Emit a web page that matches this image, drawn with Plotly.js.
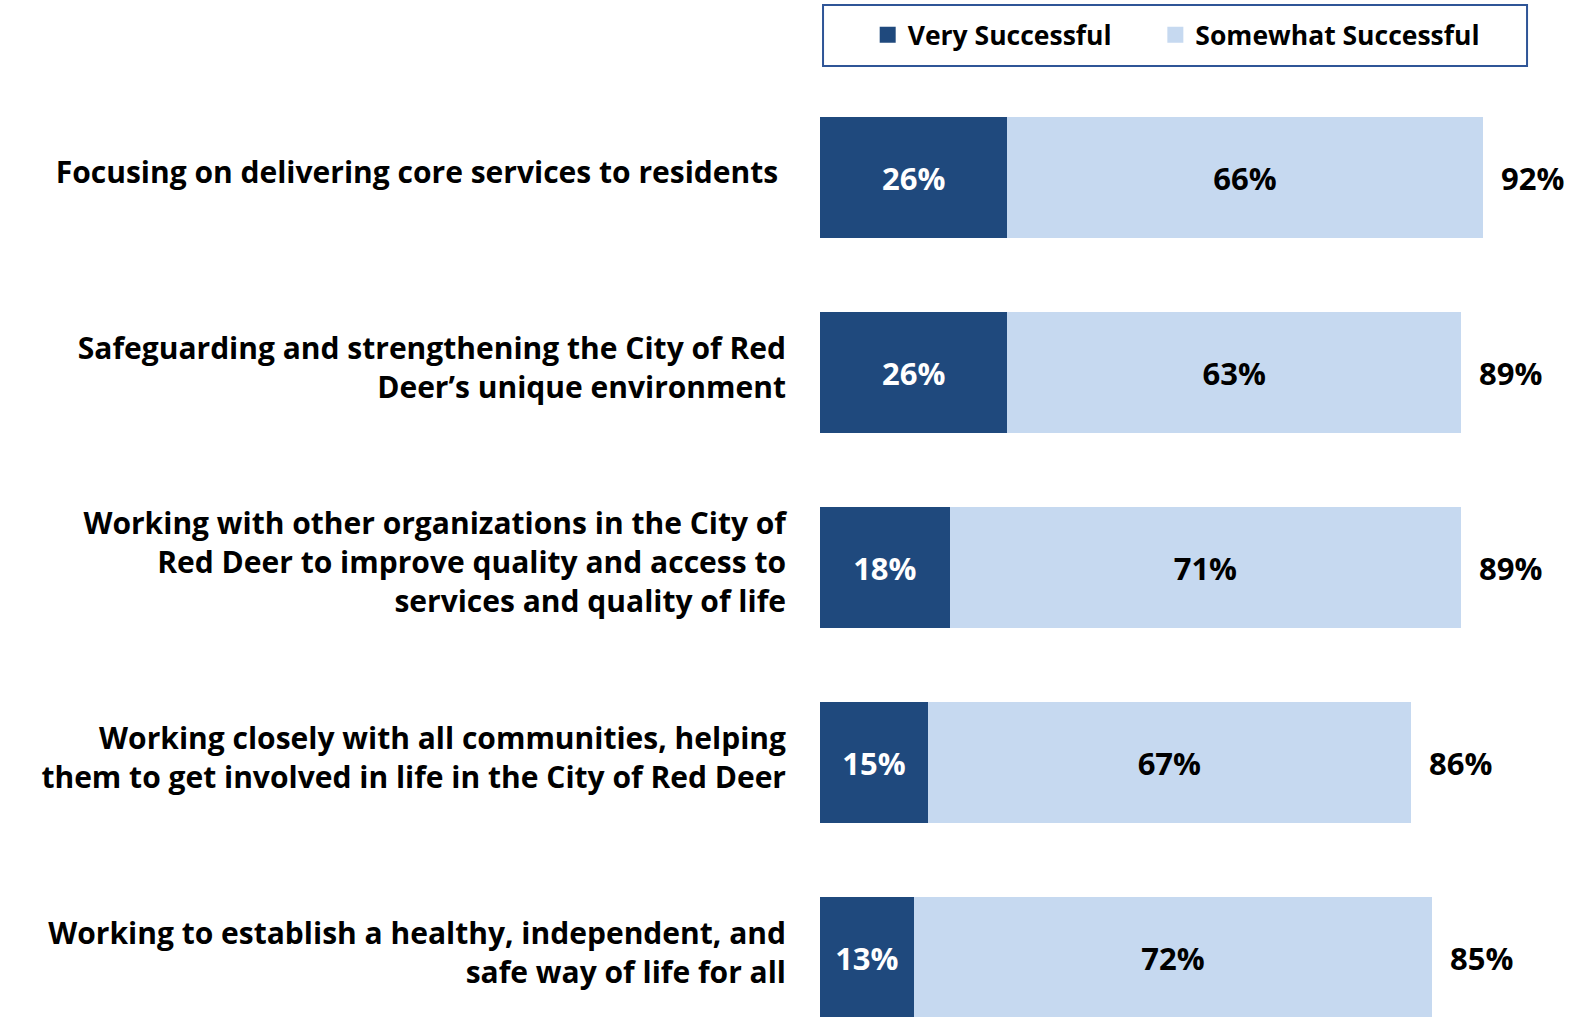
<!DOCTYPE html>
<html>
<head>
<meta charset="utf-8">
<script src="https://cdn.plot.ly/plotly-3.0.1.min.js"></script>
<style>html,body{margin:0;padding:0;background:#fff;}#chart{width:1577px;height:1017px;}</style>
</head>
<body>
<div id="chart"></div>
<script>
const categories = [
  "Focusing on delivering core services to residents\u00a0",
  "Safeguarding and strengthening the City of Red<br>Deer’s unique environment",
  "Working with other organizations in the City of<br>Red Deer to improve quality and access to<br>services and quality of life",
  "Working closely with all communities, helping<br>them to get involved in life in the City of Red Deer",
  "Working to establish a healthy, independent, and<br>safe way of life for all"
];
const verySuccessful = [26, 26, 18, 15, 13];
const somewhatSuccessful = [66, 63, 71, 67, 72];
const totalLabels = ["92%", "89%", "89%", "86%", "85%"];
const seriesNames = ["Very Successful", "Somewhat Successful"];

const FONT = "'Open Sans', Lato, sans-serif";
const darkBlue = "#1F497D";
const lightBlue = "#C6D9F0";
const colors = [darkBlue, lightBlue];
const legendIds = ["legend", "legend2"];

const pct = v => v.map(x => "<b>" + x + "%</b>");

const traces = [
  {
    type: "bar", orientation: "h", name: seriesNames[0], showlegend: false,
    y: categories, x: verySuccessful,
    marker: {color: darkBlue},
    text: pct(verySuccessful), textposition: "inside", insidetextanchor: "middle",
    textfont: {color: "#ffffff", size: 31, family: FONT},
    constraintext: "none", hoverinfo: "skip"
  },
  {
    type: "bar", orientation: "h", name: seriesNames[1], showlegend: false,
    y: categories, x: somewhatSuccessful,
    marker: {color: lightBlue},
    text: pct(somewhatSuccessful), textposition: "inside", insidetextanchor: "middle",
    textfont: {color: "#000000", size: 31, family: FONT},
    constraintext: "none", hoverinfo: "skip"
  }
];
// legend keys only (no drawn points): square swatches in the bar colours
seriesNames.forEach((n, i) => traces.push({
  type: "scatter", mode: "markers", name: "<b>" + n + "</b>",
  x: [null], y: [null], showlegend: true, hoverinfo: "skip",
  legend: legendIds[i],
  marker: {symbol: "square", size: 17, color: colors[i]}
}));

const annotations = categories.map((c, i) => ({
  x: verySuccessful[i] + somewhatSuccessful[i], y: c,
  xref: "x", yref: "y", xanchor: "left", yanchor: "middle",
  text: "<b>" + totalLabels[i] + "</b>", showarrow: false, xshift: 16,
  font: {size: 31, color: "#000", family: FONT}
}));

const legendBase = {
  orientation: "h", xanchor: "left", y: 1.048, yanchor: "middle",
  font: {size: 26.5, color: "#000", family: FONT},
  bgcolor: "rgba(0,0,0,0)", borderwidth: 0, itemsizing: "trace"
};

const layout = {
  width: 1577, height: 1017,
  margin: {l: 820, r: 0, t: 80, b: 0, pad: 0},
  barmode: "stack", bargap: 0.38,
  paper_bgcolor: "#fff", plot_bgcolor: "#fff",
  font: {family: FONT, color: "#000"},
  xaxis: {range: [0, 105.1], visible: false, fixedrange: true},
  yaxis: {
    type: "category", categoryorder: "array", categoryarray: categories,
    range: [4.303, -0.5], showgrid: false, zeroline: false, showline: false,
    ticks: "", ticklabelstandoff: 33, ticklabelshift: 5,
    tickfont: {size: 30, color: "#000", family: FONT, weight: "bold"}
  },
  showlegend: true,
  legend: Object.assign({}, legendBase, {x: 0.063}),
  legend2: Object.assign({}, legendBase, {x: 0.443}),
  shapes: [{
    type: "rect", xref: "paper", yref: "paper",
    x0: 0.004, x1: 0.934, y0: 1.0149, y1: 1.080,
    line: {color: "#2F5597", width: 2}, fillcolor: "rgba(0,0,0,0)"
  }],
  annotations: annotations
};

Plotly.newPlot("chart", traces, layout, {displayModeBar: false, staticPlot: true});
</script>
</body>
</html>
